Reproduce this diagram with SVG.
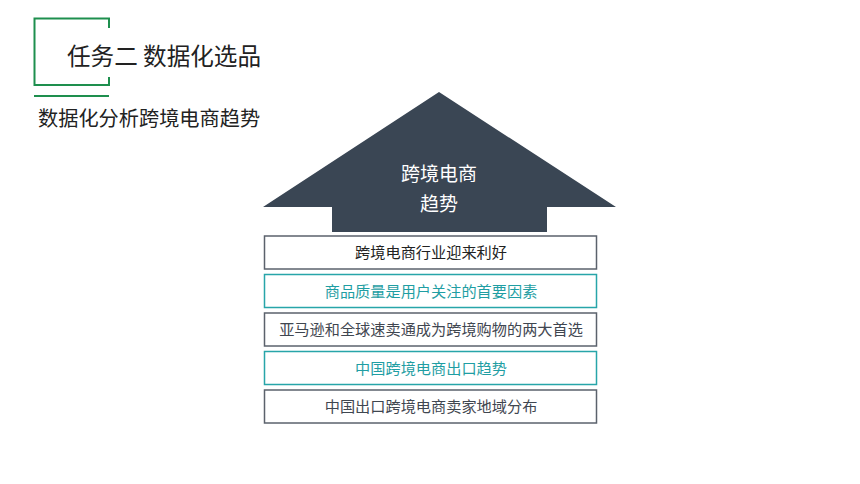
<svg xmlns="http://www.w3.org/2000/svg" width="860" height="484" viewBox="0 0 860 484">
<style>
.cjk{font-family:"Noto Sans CJK SC","Noto Sans",sans-serif}
.box{fill:#ffffff;stroke-width:1.5}
.dk{stroke:#5b626c}
.tl{stroke:#27a5a9}
.bt{font-size:15.2px;text-anchor:middle}
</style>
<rect width="860" height="484" fill="#ffffff"/>
<g id="header">
<polyline points="109,28 109,18.5 34.5,18.5 34.5,85 109,85 109,77" fill="none" stroke="#1e8f4e" stroke-width="2"/>
<line x1="34" y1="96" x2="109" y2="96" stroke="#1e8f4e" stroke-width="2"/>
<text x="67" y="65" class="cjk" font-size="23.6" fill="#222222">任务二 数据化选品</text>
<text x="38" y="126" class="cjk" font-size="20.2" fill="#222222">数据化分析跨境电商趋势</text>
</g>
<g id="roof">
<polygon points="439,92 616,207 547,207 547,232 332,232 332,207 263,207" fill="#3a4654"/>
<text x="439" y="181" class="cjk" font-size="19" fill="#ffffff" text-anchor="middle">跨境电商</text>
<text x="439" y="211" class="cjk" font-size="19" fill="#ffffff" text-anchor="middle">趋势</text>
</g>
<g id="box1"><rect class="box dk" x="264.5" y="236" width="332" height="33"/><text class="cjk bt" x="431" y="258" fill="#222222">跨境电商行业迎来利好</text></g>
<g id="box2"><rect class="box tl" x="264.5" y="274.5" width="332" height="33"/><text class="cjk bt" x="431" y="296.5" fill="#1f9ea3">商品质量是用户关注的首要因素</text></g>
<g id="box3"><rect class="box dk" x="264.5" y="313" width="332" height="33"/><text class="cjk bt" x="431" y="335" fill="#3f4650">亚马逊和全球速卖通成为跨境购物的两大首选</text></g>
<g id="box4"><rect class="box tl" x="264.5" y="351.5" width="332" height="33"/><text class="cjk bt" x="431" y="373.5" fill="#1f9ea3">中国跨境电商出口趋势</text></g>
<g id="box5"><rect class="box dk" x="264.5" y="390" width="332" height="33"/><text class="cjk bt" x="431" y="412" fill="#3f4650">中国出口跨境电商卖家地域分布</text></g>
<g id="connectors"></g>
</svg>
